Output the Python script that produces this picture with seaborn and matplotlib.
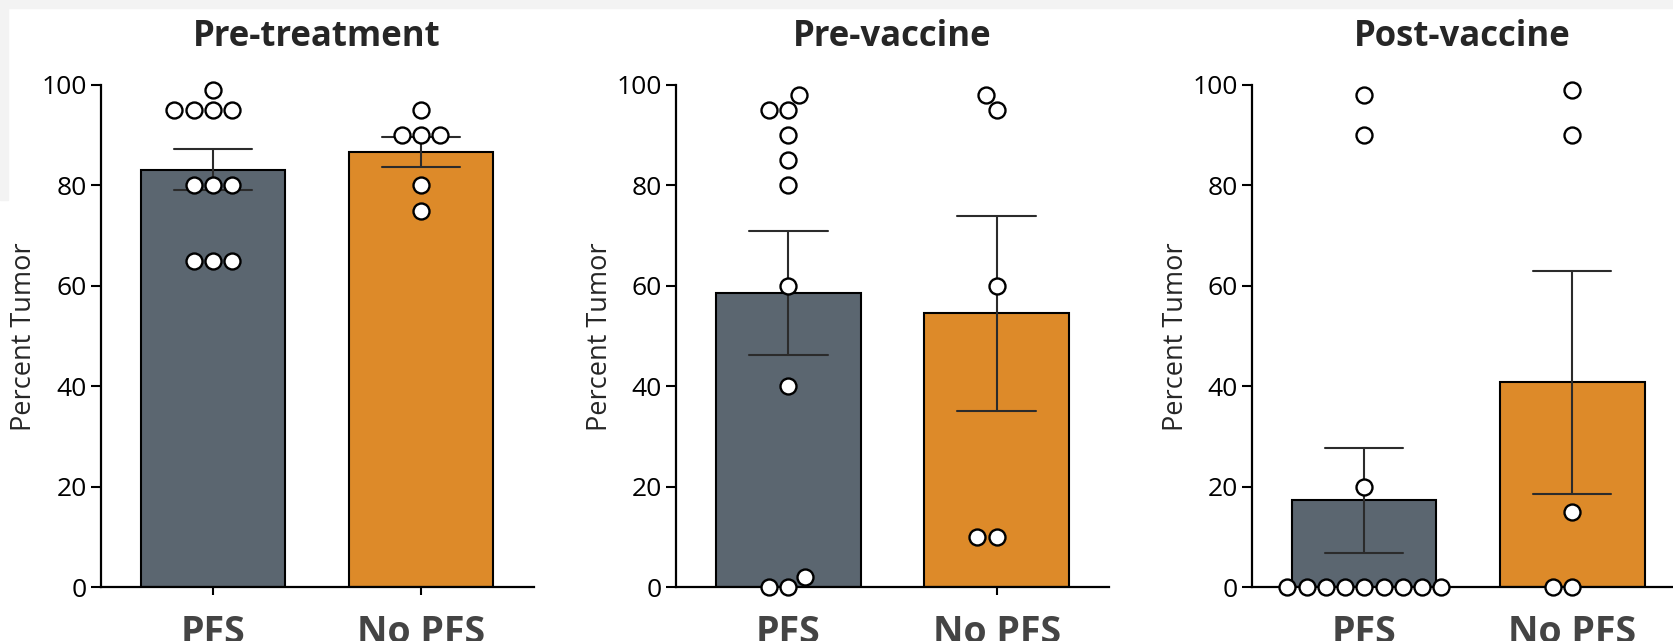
import numpy as np
import pandas as pd
import matplotlib
matplotlib.use("Agg")
import matplotlib.pyplot as plt
from matplotlib.patches import Rectangle
import seaborn as sns

# ---------------- data ----------------
groups = ["PFS", "No PFS"]
panel_titles = ["Pre-treatment", "Pre-vaccine", "Post-vaccine"]
y_label = "Percent Tumor"
y_ticks = [0, 20, 40, 60, 80, 100]

pre_treatment_pfs = [99, 95, 95, 95, 95, 80, 80, 80, 65, 65, 65]
pre_treatment_no_pfs = [95, 90, 90, 90, 80, 75]
pre_vaccine_pfs = [98, 95, 95, 90, 85, 80, 60, 40, 2, 0, 0]
pre_vaccine_no_pfs = [98, 95, 60, 10, 10]
post_vaccine_pfs = [98, 90, 20, 0, 0, 0, 0, 0, 0, 0, 0, 0]
post_vaccine_no_pfs = [99, 90, 15, 0, 0]

panels = [
    (pre_treatment_pfs, pre_treatment_no_pfs),
    (pre_vaccine_pfs, pre_vaccine_no_pfs),
    (post_vaccine_pfs, post_vaccine_no_pfs),
]

bar_colors = ["#5b6670", "#dd8a29"]

# ---------------- style ----------------
sns.set_style("ticks")
plt.rcParams["font.family"] = ["Open Sans", "DejaVu Sans"]

W, H = 1673, 641
fig = plt.figure(figsize=(W / 100, H / 100), dpi=100)
fig.patch.set_facecolor("white")

# light screenshot border strips
fig.add_artist(Rectangle((0, 1 - 8 / H), 1, 8 / H, transform=fig.transFigure,
                         color="#f3f3f3", zorder=0))
fig.add_artist(Rectangle((0, 1 - 200 / H), 8 / W, 200 / H, transform=fig.transFigure,
                         color="#f3f3f3", zorder=0))

# axes geometry in pixels
ax_bottom_px = 587.4
ax_top_px = 85.0
lefts_px = [100.5, 676.0, 1252.0]
widths_px = [433.0, 433.0, 421.0]
xlims = [(-0.54, 1.54), (-0.54, 1.54), (-0.54, 1.484)]

for i, (pfs_vals, nopfs_vals) in enumerate(panels):
    ax = fig.add_axes([lefts_px[i] / W, (H - ax_bottom_px) / H,
                       widths_px[i] / W, (ax_bottom_px - ax_top_px) / H])
    df = pd.DataFrame({
        "group": [groups[0]] * len(pfs_vals) + [groups[1]] * len(nopfs_vals),
        "value": list(pfs_vals) + list(nopfs_vals),
    })
    sns.barplot(data=df, x="group", y="value", order=groups, hue="group",
                hue_order=groups, palette=bar_colors, legend=False,
                saturation=1, errorbar="se", capsize=0.376, width=0.694,
                edgecolor="black", linewidth=1.5,
                err_kws={"color": "#2b2b2b", "linewidth": 1.5, "zorder": 3},
                ax=ax)
    sns.swarmplot(data=df, x="group", y="value", order=groups,
                  color="white", edgecolor="black", linewidth=1.7, size=11.5,
                  ax=ax, zorder=4, clip_on=False)

    ax.set_ylim(0, 100)
    ax.set_xlim(*xlims[i])
    ax.set_yticks(y_ticks)
    ax.set_title(panel_titles[i], fontsize=25, fontweight="bold", pad=28)
    ax.set_xlabel("")
    ax.set_ylabel(y_label, fontsize=19.5)
    ax.yaxis.set_label_coords(-62 / widths_px[i], 0.5)

    sns.despine(ax=ax)
    for s in ["left", "bottom"]:
        ax.spines[s].set_linewidth(1.6)
        ax.spines[s].set_color("black")
    ax.tick_params(axis="y", length=7, width=1.5, labelsize=19, pad=3,
                   color="black", labelcolor="black")
    ax.tick_params(axis="x", length=6, width=1.5, labelsize=27, pad=13,
                   color="black", labelcolor="#444444")
    for lab in ax.get_xticklabels():
        lab.set_fontweight("bold")

fig.savefig("out.png", dpi=100, facecolor=fig.get_facecolor())
